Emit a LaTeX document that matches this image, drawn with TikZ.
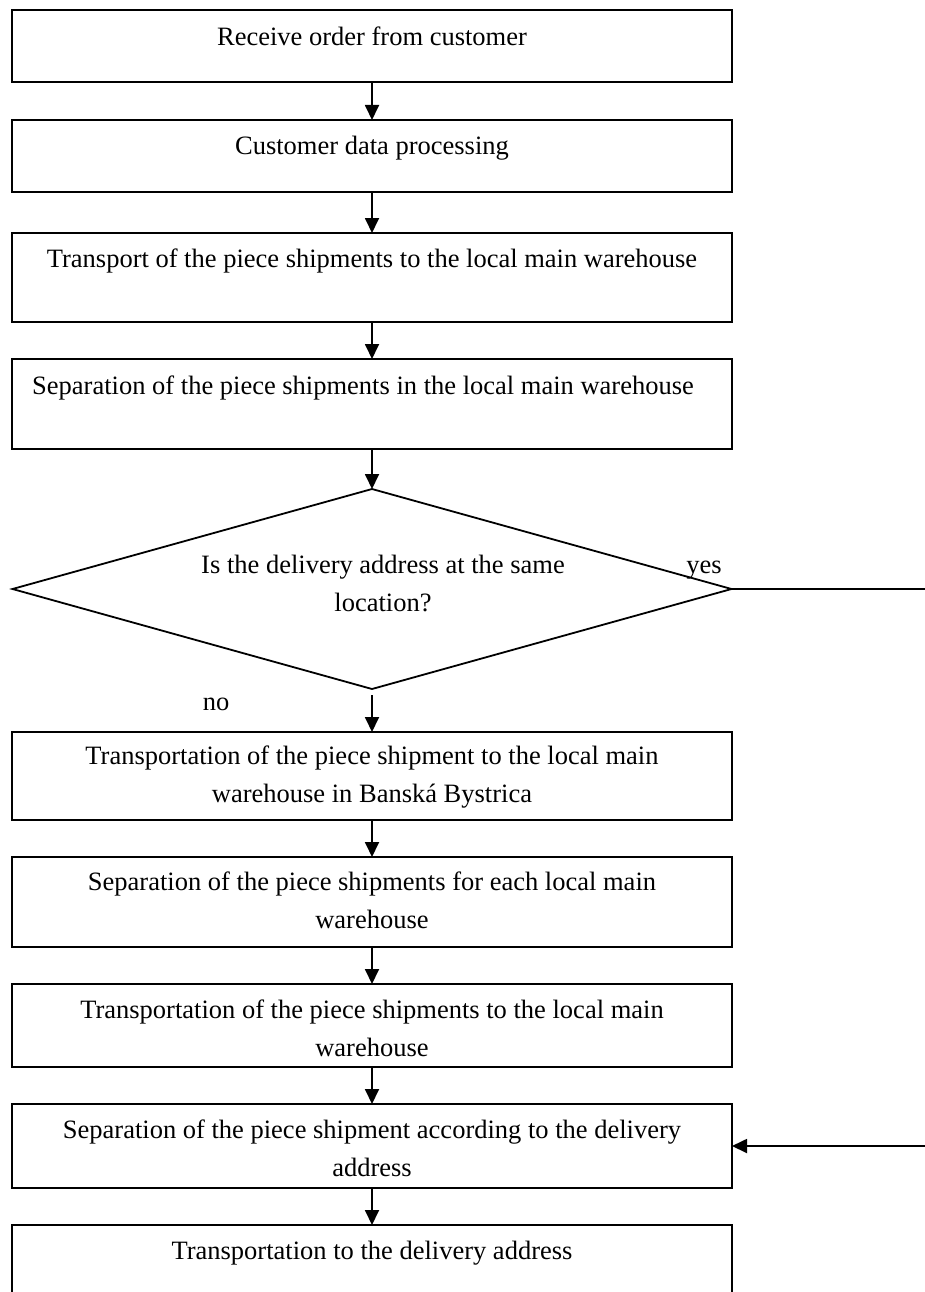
\documentclass[tikz,border=0pt]{standalone}
\usepackage{fontspec}
\setmainfont{Liberation Serif}
\usetikzlibrary{arrows.meta,shapes.geometric}

\begin{document}
\begin{tikzpicture}[x=1pt,y=-1pt,
  box/.style={draw,line width=1.8pt,minimum width=720pt,inner sep=0pt,outer sep=0pt},
  decision/.style={diamond,draw,line width=1.8pt,minimum width=719pt,minimum height=200pt,inner sep=0pt,outer sep=0pt},
  txt/.style={anchor=base,align=center,inner sep=0pt,font=\fontsize{26.5}{37.5}\selectfont},
  flow/.style={line width=1.8pt,-{Triangle[length=15pt,width=14pt]}}]
\useasboundingbox (0,0) rectangle (924,1292);

% process boxes
\node[box,minimum height=72pt] (b1) at (372,46) {};
\node[box,minimum height=72pt] (b2) at (372,156) {};
\node[box,minimum height=89pt] (b3) at (372,277.5) {};
\node[box,minimum height=90pt] (b4) at (372,404) {};
\node[decision] (d) at (372,589) {};
\node[box,minimum height=88pt] (b5) at (372,776) {};
\node[box,minimum height=90pt] (b6) at (372,902) {};
\node[box,minimum height=83pt] (b7) at (372,1025.5) {};
\node[box,minimum height=84pt] (b8) at (372,1146) {};
\node[box,minimum height=75pt] (b9) at (372,1262.5) {};

% box texts (a multi-line text sits on the baseline of its last line)
\node[txt] (t1) at (372,46) {Receive order from customer};
\node[txt] (t2) at (372,155) {Customer data processing};
\node[txt] (t3) at (372,267) {Transport of the piece shipments to the local main warehouse};
\node[txt] (t4) at (363,394) {Separation of the piece shipments in the local main warehouse};
\node[txt] (td) at (383,611) {Is the delivery address at the same\\location?};
\node[txt] (yes) at (704,573) {yes};
\node[txt] (no) at (216,710) {no};
\node[txt] (t5) at (372,802) {Transportation of the piece shipment to the local main\\warehouse in Banská Bystrica};
\node[txt] (t6) at (372,928) {Separation of the piece shipments for each local main\\warehouse};
\node[txt] (t7) at (372,1056) {Transportation of the piece shipments to the local main\\warehouse};
\node[txt] (t8) at (372,1176) {Separation of the piece shipment according to the delivery\\address};
\node[txt] (t9) at (372,1259) {Transportation to the delivery address};

% connectors
\draw[flow] (b1.south) -- (b2.north);
\draw[flow] (b2.south) -- (b3.north);
\draw[flow] (b3.south) -- (b4.north);
\draw[flow] (b4.south) -- (d.north);
\draw[flow,shorten <=6pt] (d.south) -- (b5.north);
\draw[flow] (b5.south) -- (b6.north);
\draw[flow] (b6.south) -- (b7.north);
\draw[flow] (b7.south) -- (b8.north);
\draw[flow] (b8.south) -- (b9.north);
\coordinate (turn) at (945,589);
\draw[flow] (d.east) -- (turn) |- (b8.east);
\end{tikzpicture}
\end{document}
